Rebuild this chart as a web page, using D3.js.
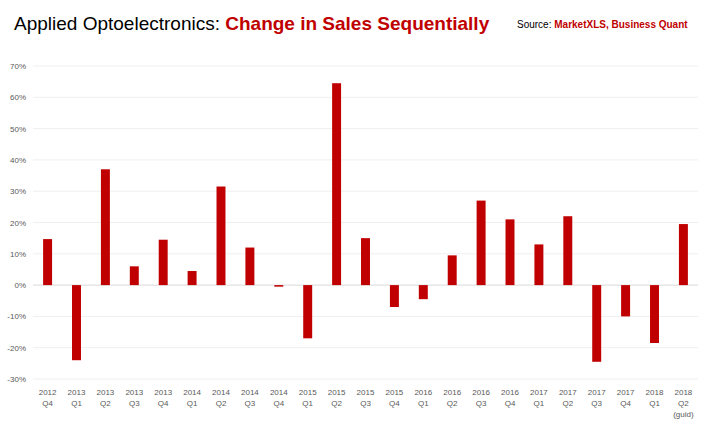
<!DOCTYPE html><html><head><meta charset="utf-8"><script src="https://cdn.jsdelivr.net/npm/d3@7"></script>
<style>body{margin:0;background:#fff;font-family:"Liberation Sans",Arial,sans-serif}</style></head><body><svg id="c" width="709" height="425"></svg>
<script>
const years=["2012","2013","2013","2013","2013","2014","2014","2014","2014","2015","2015","2015","2015","2016","2016","2016","2016","2017","2017","2017","2017","2018","2018"];
const quarters=["Q4","Q1","Q2","Q3","Q4","Q1","Q2","Q3","Q4","Q1","Q2","Q3","Q4","Q1","Q2","Q3","Q4","Q1","Q2","Q3","Q4","Q1","Q2"];
const values=[14.7,-24,37,6,14.5,4.5,31.5,12,-0.5,-17,64.5,15,-7,-4.5,9.5,27,21,13,22,-24.5,-10,-18.5,19.5];
const yTicks=[-30,-20,-10,0,10,20,30,40,50,60,70];
const svg=d3.select("#c");
const idx=values.map((d,i)=>i);
const x=d3.scaleBand().domain(idx).range([33,698]).paddingInner(0.69).paddingOuter(0.35);
const y=d3.scaleLinear().domain([-30,70]).range([379,66]);
svg.append("g").selectAll("line").data(yTicks).join("line").attr("x1",33).attr("x2",698).attr("y1",d=>y(d)).attr("y2",d=>y(d)).attr("stroke",d=>d===0?"#d9d9d9":"#efefef");
svg.append("g").selectAll("text").data(yTicks).join("text").attr("x",26).attr("y",d=>y(d)+3).attr("text-anchor","end").attr("font-size",8).attr("fill","#595959").text(d=>d+"%");
svg.append("g").selectAll("rect").data(values).join("rect").attr("x",(d,i)=>x(i)).attr("width",x.bandwidth()).attr("y",d=>y(Math.max(0,d))).attr("height",d=>Math.abs(y(d)-y(0))).attr("fill","#c00000");
const lab=svg.append("g").attr("font-size",8).attr("fill","#595959").attr("text-anchor","middle");
idx.forEach(i=>{const cx=x(i)+x.bandwidth()/2;lab.append("text").attr("x",cx).attr("y",395).text(years[i]);lab.append("text").attr("x",cx).attr("y",406).text(quarters[i]);if(i===idx.length-1)lab.append("text").attr("x",cx).attr("y",417).text("(guid)");});
const t=svg.append("text").attr("x",14).attr("y",30).attr("font-size",19);
t.append("tspan").attr("fill","#000").text("Applied Optoelectronics: ");
t.append("tspan").attr("fill","#c00000").attr("font-weight","bold").text("Change in Sales Sequentially");
const s=svg.append("text").attr("x",517).attr("y",28).attr("font-size",10);
s.append("tspan").attr("fill","#000").text("Source: ");
s.append("tspan").attr("fill","#c00000").attr("font-weight","bold").text("MarketXLS, Business Quant");
</script></body></html>
